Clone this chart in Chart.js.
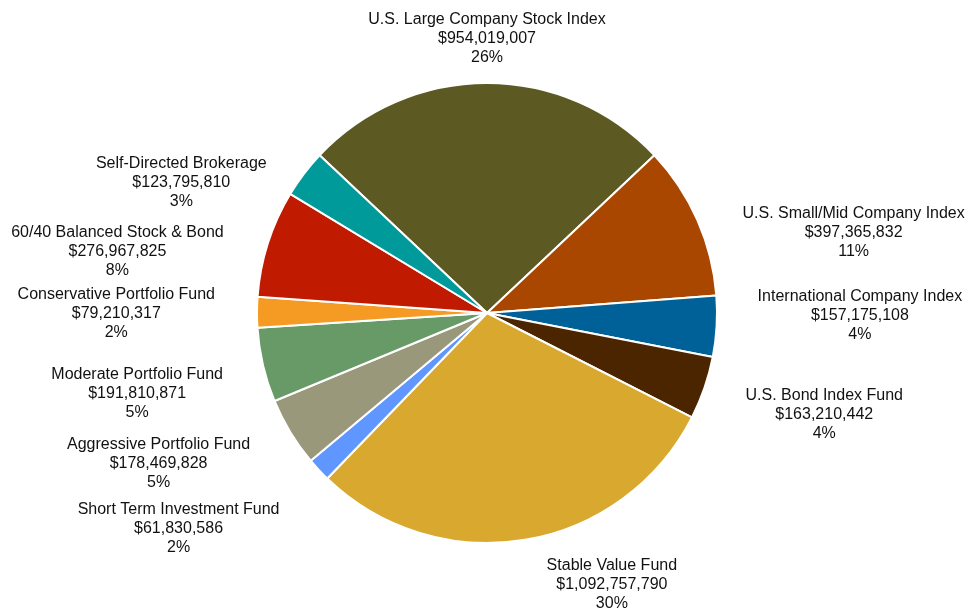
<!DOCTYPE html>
<html>
<head>
<meta charset="utf-8">
<script src="https://cdn.jsdelivr.net/npm/chart.js@4/dist/chart.umd.min.js"></script>
<style>
  html, body { margin: 0; padding: 0; background: #ffffff; }
  #wrap { width: 967px; height: 610px; position: relative; }
</style>
</head>
<body>
<div id="wrap"><canvas id="pie"></canvas></div>
<script>
// Plan assets by fund option
const funds = [
  "U.S. Large Company Stock Index",
  "U.S. Small/Mid Company Index",
  "International Company Index",
  "U.S. Bond Index Fund",
  "Stable Value Fund",
  "Short Term Investment Fund",
  "Aggressive Portfolio Fund",
  "Moderate Portfolio Fund",
  "Conservative Portfolio Fund",
  "60/40 Balanced Stock & Bond",
  "Self-Directed Brokerage"
];
const assets = [
  954019007,
  397365832,
  157175108,
  163210442,
  1092757790,
  61830586,
  178469828,
  191810871,
  79210317,
  276967825,
  123795810
];
const fundColors = [
  "#5c5a22", "#a94600", "#006199", "#4b2400", "#d9a92f",
  "#5f96ff", "#9a987a", "#679a66", "#f59a23", "#c01a00", "#009a9a"
];

// Label placement: [horizontal gap / shift, vertical shift] relative to
// the outer point at each slice's middle angle.
const labelPlacement = [
  [0, -47], [46, 11], [42, -12], [42, 26], [87, 44],
  [40, 58], [41, 30], [41, 27], [43, 0], [45, 6], [38, 7]
];

const total = assets.reduce((a, b) => a + b, 0);
const money = v => "$" + v.toLocaleString("en-US");
const pct = v => Math.round(v / total * 100) + "%";

const FONT = '16px "Liberation Sans", Arial, sans-serif';
const LINE = 19;

const sliceLabels = {
  id: "sliceLabels",
  afterDatasetsDraw(chart) {
    const ctx = chart.ctx;
    const meta = chart.getDatasetMeta(0);
    ctx.save();
    ctx.font = FONT;
    ctx.fillStyle = "#111111";
    ctx.textAlign = "center";
    ctx.textBaseline = "middle";
    meta.data.forEach((arc, i) => {
      const p = arc.getProps(["x", "y", "startAngle", "endAngle", "outerRadius"], true);
      const mid = (p.startAngle + p.endAngle) / 2;
      const ux = Math.cos(mid), uy = Math.sin(mid);
      const r = p.outerRadius - 1;
      const px = p.x + ux * r, py = p.y + uy * r;
      const lines = [funds[i], money(assets[i]), pct(assets[i])];
      const w = Math.max(...lines.map(t => ctx.measureText(t).width));
      const [gx, gy] = labelPlacement[i];
      let cx;
      if (ux > 0.5) cx = px + gx + w / 2;
      else if (ux < -0.5) cx = px - gx - w / 2;
      else cx = px + gx;
      const cy = py + gy + 1.5;
      lines.forEach((t, k) => ctx.fillText(t, cx, cy + (k - 1) * LINE));
    });
    ctx.restore();
  }
};

new Chart(document.getElementById("pie"), {
  type: "pie",
  data: {
    labels: funds,
    datasets: [{
      data: assets,
      backgroundColor: fundColors,
      borderColor: "#ffffff",
      borderWidth: 2,
      hoverBorderWidth: 2,
      hoverOffset: 0
    }]
  },
  options: {
    responsive: true,
    maintainAspectRatio: false,
    animation: false,
    rotation: -(assets[0] / total * 360) / 2,
    layout: { padding: { top: 82, bottom: 66, left: 256, right: 249 } },
    plugins: {
      legend: { display: false },
      tooltip: { enabled: false }
    }
  },
  plugins: [sliceLabels]
});
</script>
</body>
</html>
